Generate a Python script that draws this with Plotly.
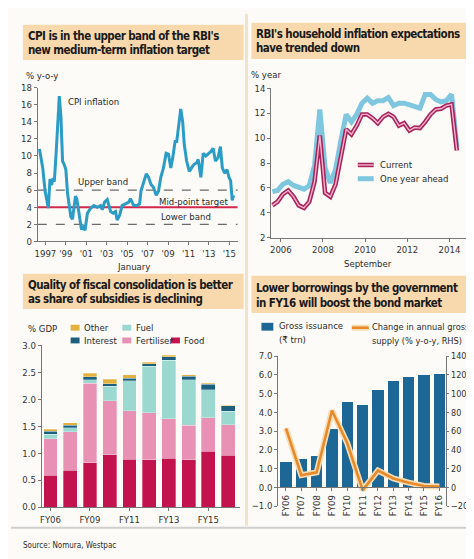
import plotly.graph_objects as go

W, H = 474, 559
FONT = "DejaVu Sans Condensed, DejaVu Sans, sans-serif"

# ---------------- Panel 1: CPI inflation, % y-o-y ----------------
cpi_year = [1996.42, 1996.74, 1996.97, 1997.16, 1997.29, 1997.45, 1997.61, 1997.74, 1997.87, 1998.04,
            1998.20, 1998.36, 1998.52, 1998.68, 1998.84, 1999.00, 1999.17, 1999.33, 1999.49, 1999.65,
            1999.82, 1999.94, 2000.07, 2000.20, 2000.40, 2000.53, 2000.72, 2000.88, 2001.11, 2001.43,
            2001.76, 2002.08, 2002.40, 2002.57, 2002.79, 2003.05, 2003.38, 2003.63, 2003.86, 2004.02,
            2004.28, 2004.50, 2004.83, 2005.16, 2005.32, 2005.64, 2005.96, 2006.22, 2006.35, 2006.61,
            2006.87, 2007.10, 2007.32, 2007.58, 2007.84, 2008.07, 2008.29, 2008.55, 2008.81, 2009.04,
            2009.27, 2009.46, 2009.69, 2009.85, 2010.01, 2010.24, 2010.43, 2010.59, 2010.82, 2011.08,
            2011.30, 2011.53, 2011.79, 2011.95, 2012.21, 2012.44, 2012.70, 2012.95, 2013.18, 2013.41,
            2013.63, 2013.89, 2014.12, 2014.31, 2014.54, 2014.77, 2014.96, 2015.12, 2015.28, 2015.41]
cpi_value = [10.8, 8.6, 5.9, 4.4, 3.9, 7.3, 6.6, 7.4, 7.0, 10.1,
             13.5, 17.0, 14.6, 9.4, 9.0, 8.4, 5.6, 4.0, 2.9, 2.6,
             4.4, 5.3, 5.0, 4.0, 2.2, 1.4, 1.7, 1.3, 3.3, 3.9,
             4.2, 4.0, 4.2, 3.7, 4.6, 4.9, 3.5, 3.3, 3.5, 2.5,
             3.1, 4.2, 4.4, 4.6, 5.0, 4.2, 4.2, 4.4, 5.9, 6.9,
             7.9, 7.5, 6.7, 6.3, 5.4, 5.9, 7.5, 8.6, 10.3, 10.2,
             8.6, 9.8, 11.7, 11.7, 13.6, 15.5, 14.0, 11.3, 9.4, 8.2,
             8.6, 9.0, 9.2, 9.6, 7.5, 10.3, 10.0, 10.3, 10.5, 10.9,
             9.4, 9.8, 11.1, 8.6, 8.0, 8.4, 7.5, 7.1, 4.8, 5.4]
upper_band = 6
mid_point_target = 4
lower_band = 2
cpi_tickvals = [1997, 1999, 2001, 2003, 2005, 2007, 2009, 2011, 2013, 2015]
cpi_ticktext = ["1997", "'99", "'01", "'03", "'05", "'07", "'09", "'11", "'13", "'15"]

# ---------------- Panel 2: household inflation expectations, % ----------------
exp_year = [2005.60, 2005.85, 2006.10, 2006.35, 2006.60, 2006.85, 2007.10, 2007.35, 2007.60, 2007.85,
            2008.10, 2008.35, 2008.60, 2008.85, 2009.10, 2009.35, 2009.60, 2009.85, 2010.10, 2010.35,
            2010.60, 2010.85, 2011.10, 2011.35, 2011.60, 2011.85, 2012.10, 2012.35, 2012.60, 2012.85,
            2013.10, 2013.35, 2013.60, 2013.85, 2014.10, 2014.35]
exp_current = [4.6, 4.9, 5.5, 5.8, 5.3, 4.6, 4.4, 4.9, 6.5, 10.2,
               5.6, 5.3, 6.3, 8.5, 10.7, 10.3, 11.0, 11.9, 11.9, 11.6,
               11.2, 11.7, 11.95, 11.7, 11.0, 11.2, 10.6, 10.85, 10.8, 11.3,
               11.9, 12.3, 12.35, 12.6, 12.7, 9.0]
exp_ahead = [5.7, 5.8, 6.3, 6.5, 6.2, 6.05, 5.9, 6.2, 7.8, 12.3,
             7.6, 6.4, 7.5, 9.8, 11.9, 11.3, 11.9, 12.8, 13.2, 12.8,
             13.0, 13.0, 13.25, 12.6, 12.8, 12.8, 12.7, 12.5, 12.4, 13.5,
             13.5, 13.1, 12.9, 13.0, 13.5, 9.3]
exp_tickvals = [2006, 2008, 2010, 2012, 2014]

# ---------------- Panel 3: subsidies, % GDP ----------------
fy_subsidy = ["FY06", "FY08", "FY09", "FY10", "FY11", "FY12", "FY13", "FY14", "FY15", "FY16"]
food = [0.59, 0.68, 0.82, 0.97, 0.89, 0.88, 0.91, 0.88, 1.04, 0.96]
fertiliser = [0.68, 0.72, 1.48, 1.00, 0.90, 0.87, 0.73, 0.64, 0.62, 0.57]
fuel = [0.08, 0.07, 0.06, 0.27, 0.55, 0.86, 1.08, 0.84, 0.52, 0.25]
interest = [0.06, 0.05, 0.06, 0.05, 0.05, 0.05, 0.07, 0.07, 0.10, 0.10]
other = [0.03, 0.04, 0.06, 0.08, 0.06, 0.03, 0.03, 0.02, 0.02, 0.01]
subsidy_ticks = ["FY06", "FY09", "FY11", "FY13", "FY15"]

# ---------------- Panel 4: government borrowing ----------------
fy_bond = ["FY06", "FY07", "FY08", "FY09", "FY10", "FY11", "FY12", "FY13", "FY14", "FY15", "FY16"]
gross_issuance = [1.35, 1.5, 1.7, 3.1, 4.55, 4.4, 5.2, 5.65, 5.9, 6.0, 6.05]
supply_change = [63, 13, 16, 82, 47, -3, 18, 9.5, 5, 1.5, 1]


def px(x):
    return x / W


def py(y):
    return 1 - y / H


C_CPI = "#2a9cc6"
C_RED = "#d12a4c"
C_BAND = "#6a6a6a"
C_AHEAD = "#7fc6df"
C_CUR_OUT = "#a6235b"
C_CUR_IN = "#f6b3cd"
C_FOOD = "#c3134f"
C_FERT = "#e891b5"
C_FUEL = "#9ad8d0"
C_INT = "#1d5f7e"
C_OTHER = "#e2b13e"
C_ISSUE = "#1d6797"
C_ORANGE = "#e8892a"
C_HALO = "#f6ddb4"
TITLE_BG = "#f8d9ad"
TXT = "#2a2a2a"

fig = go.Figure()

# Panel 1
fig.add_trace(go.Scatter(x=cpi_year, y=cpi_value, mode="lines", xaxis="x", yaxis="y",
                         line=dict(color=C_CPI, width=3), showlegend=False))

# Panel 2
fig.add_trace(go.Scatter(x=exp_year, y=exp_ahead, mode="lines", xaxis="x2", yaxis="y2",
                         line=dict(color=C_AHEAD, width=5), showlegend=False))
fig.add_trace(go.Scatter(x=exp_year, y=exp_current, mode="lines", xaxis="x2", yaxis="y2",
                         line=dict(color=C_CUR_OUT, width=4.5), showlegend=False))
fig.add_trace(go.Scatter(x=exp_year, y=exp_current, mode="lines", xaxis="x2", yaxis="y2",
                         line=dict(color=C_CUR_IN, width=1.4), showlegend=False))

# Panel 3
for vals, col in [(food, C_FOOD), (fertiliser, C_FERT), (fuel, C_FUEL), (interest, C_INT), (other, C_OTHER)]:
    fig.add_trace(go.Bar(x=fy_subsidy, y=vals, xaxis="x3", yaxis="y3", width=0.7,
                         marker=dict(color=col, line=dict(color="rgba(255,255,255,0.6)", width=0.5)),
                         showlegend=False))

# Panel 4
fig.add_trace(go.Bar(x=fy_bond, y=gross_issuance, xaxis="x4", yaxis="y4", width=0.74,
                     marker=dict(color=C_ISSUE, line=dict(width=0)), showlegend=False))
fig.add_trace(go.Scatter(x=fy_bond, y=supply_change, mode="lines", xaxis="x4", yaxis="y5",
                         line=dict(color=C_HALO, width=6), showlegend=False))
fig.add_trace(go.Scatter(x=fy_bond, y=supply_change, mode="lines", xaxis="x4", yaxis="y5",
                         line=dict(color=C_ORANGE, width=2.6), showlegend=False))

tickfont = dict(family=FONT, size=9.5, color="#333")
ax = dict(showline=True, linecolor="#777", linewidth=1, ticks="outside", ticklen=3,
          tickcolor="#777", showgrid=False, zeroline=False, tickfont=tickfont, fixedrange=True,
          tickangle=0)

fig.update_layout(
    width=W, height=H, margin=dict(l=0, r=0, t=0, b=0),
    paper_bgcolor="#fcfbf7", plot_bgcolor="rgba(0,0,0,0)",
    barmode="stack", bargap=0.3,
    xaxis=dict(ax, domain=[px(27), px(228)], range=[1996.26, 2015.8], tickvals=cpi_tickvals,
               ticktext=cpi_ticktext, anchor="y"),
    yaxis=dict(ax, domain=[py(232), py(75)], range=[0, 18], dtick=2, anchor="x"),
    xaxis2=dict(ax, domain=[px(262), px(472)], range=[2005.55, 2015.45], tickvals=exp_tickvals,
                anchor="y2"),
    yaxis2=dict(ax, domain=[py(228.3), py(75.7)], range=[2, 14], dtick=2, anchor="x2"),
    xaxis3=dict(ax, domain=[px(31), px(230)], range=[-0.44, 9.58], type="category",
                tickvals=subsidy_ticks, anchor="y3"),
    yaxis3=dict(ax, domain=[py(503), py(338)], range=[0, 3], dtick=0.5, tickformat=".1f", anchor="x3"),
    xaxis4=dict(ax, domain=[px(269), px(438)], range=[-0.5, 10.45], type="category",
                tickangle=-90, anchor="free", position=py(502) + (py(349) - py(502)) / 8),
    yaxis4=dict(ax, domain=[py(502), py(349)], range=[-1, 7], dtick=1, tickformat=".1f", anchor="x4"),
    yaxis5=dict(ax, range=[-20, 140], dtick=20, overlaying="y4", side="right", anchor="x4",
                ticklen=2, tickfont=dict(family=FONT, size=9, color="#333")),
)

shapes = []
# band lines in panel 1
for lvl, col, dash, wd in [(upper_band, C_BAND, "dash", 1.4), (lower_band, C_BAND, "dash", 1.4),
                           (mid_point_target, C_RED, "solid", 2)]:
    shapes.append(dict(type="line", xref="x domain", yref="y", x0=0, x1=1, y0=lvl, y1=lvl,
                       line=dict(color=col, width=wd, dash=dash), layer="below"))

# title boxes
for x0, y0, x1, y1 in [(12, 11, 234, 47), (242, 9, 468, 46), (12, 265, 234, 301), (242, 267, 469, 305)]:
    shapes.append(dict(type="rect", xref="paper", yref="paper", x0=px(x0), x1=px(x1), y0=py(y1), y1=py(y0),
                       fillcolor=TITLE_BG, line=dict(width=0), layer="below"))

# separators
shapes.append(dict(type="line", xref="paper", yref="paper", x0=px(237), x1=px(237), y0=py(522), y1=1,
                   line=dict(color="#f1e2c9", width=3), layer="below"))
shapes.append(dict(type="line", xref="paper", yref="paper", x0=0, x1=1, y0=py(524), y1=py(524),
                   line=dict(color="#cfcfcf", width=2), layer="below"))

# panel 2 legend swatches
shapes.append(dict(type="line", xref="paper", yref="paper", x0=px(349), x1=px(365), y0=py(168), y1=py(168),
                   line=dict(color=C_AHEAD, width=5)))
shapes.append(dict(type="line", xref="paper", yref="paper", x0=px(349), x1=px(365), y0=py(154), y1=py(154),
                   line=dict(color=C_CUR_OUT, width=4.5)))
shapes.append(dict(type="line", xref="paper", yref="paper", x0=px(349), x1=px(365), y0=py(154), y1=py(154),
                   line=dict(color=C_CUR_IN, width=1.4)))

# panel 3 legend swatches
for x0, yc, col in [(60, 320, C_OTHER), (112, 320, C_FUEL), (60, 333, C_INT), (112, 333, C_FERT), (161, 333, C_FOOD)]:
    shapes.append(dict(type="rect", xref="paper", yref="paper", x0=px(x0), x1=px(x0 + 9),
                       y0=py(yc + 3), y1=py(yc - 3), fillcolor=col, line=dict(width=0)))

# panel 4 legend swatches
shapes.append(dict(type="rect", xref="paper", yref="paper", x0=px(252), x1=px(264), y0=py(323), y1=py(315),
                   fillcolor=C_ISSUE, line=dict(width=0)))
shapes.append(dict(type="line", xref="paper", yref="paper", x0=px(343), x1=px(360), y0=py(320), y1=py(320),
                   line=dict(color=C_HALO, width=6)))
shapes.append(dict(type="line", xref="paper", yref="paper", x0=px(343), x1=px(360), y0=py(320), y1=py(320),
                   line=dict(color=C_ORANGE, width=2.6)))
fig.update_layout(shapes=shapes)

ann = []


def text(t, x, y, size=9.5, xanchor="left", color=TXT, bold=False, tight=None):
    s = t
    if tight is not None:
        s = '<span style="letter-spacing:%spx">%s</span>' % (tight, s)
    if bold:
        s = "<b>%s</b>" % s
    ann.append(dict(text=s, x=px(x), y=py(y), xref="paper", yref="paper",
                    xanchor=xanchor, yanchor="middle", showarrow=False,
                    font=dict(family=FONT, size=size, color=color)))


TS = 11.5
TT = -0.55
# titles
text("CPI is in the upper band of the RBI's", 15, 22, TS, bold=True, color="#1a1a1a", tight=TT)
text("new medium-term inflation target", 15, 37, TS, bold=True, color="#1a1a1a", tight=TT)
text("RBI's household inflation expectations", 245, 20, TS, bold=True, color="#1a1a1a", tight=TT)
text("have trended down", 245, 35, TS, bold=True, color="#1a1a1a", tight=TT)
text("Quality of fiscal consolidation is better", 15, 276, TS, bold=True, color="#1a1a1a", tight=TT)
text("as share of subsidies is declining", 15, 291, TS, bold=True, color="#1a1a1a", tight=TT)
text("Lower borrowings by the government", 245, 279, TS, bold=True, color="#1a1a1a", tight=TT)
text("in FY16 will boost the bond market", 245, 295, TS, bold=True, color="#1a1a1a", tight=TT)

# panel 1
text("% y-o-y", 13, 63)
text("CPI inflation", 55, 89)
text("Upper band", 65, 171)
text("Mid-point target", 147, 191)
text("Lower band", 149, 207)
text("January", 123, 258, xanchor="center")

# panel 2
text("% year", 240, 62)
text("Current", 369, 154)
text("One year ahead", 369, 168)
text("September", 359, 254, xanchor="center")

# panel 3
text("% GDP", 15, 321)
text("Other", 71, 320)
text("Fuel", 124, 320)
text("Interest", 71, 333)
text("Fertiliser", 124, 333)
text("Food", 172, 333)

# panel 4
text("Gross issuance", 268, 318)
text("(₹ trn)", 268, 332)
text("Change in annual gross", 361, 319, 9.2)
text("supply (% y-o-y, RHS)", 361, 333, 9.2)

text("Source: Nomura, Westpac", 10, 542, 8)
fig.update_layout(annotations=ann)

fig.write_html("out.html")
